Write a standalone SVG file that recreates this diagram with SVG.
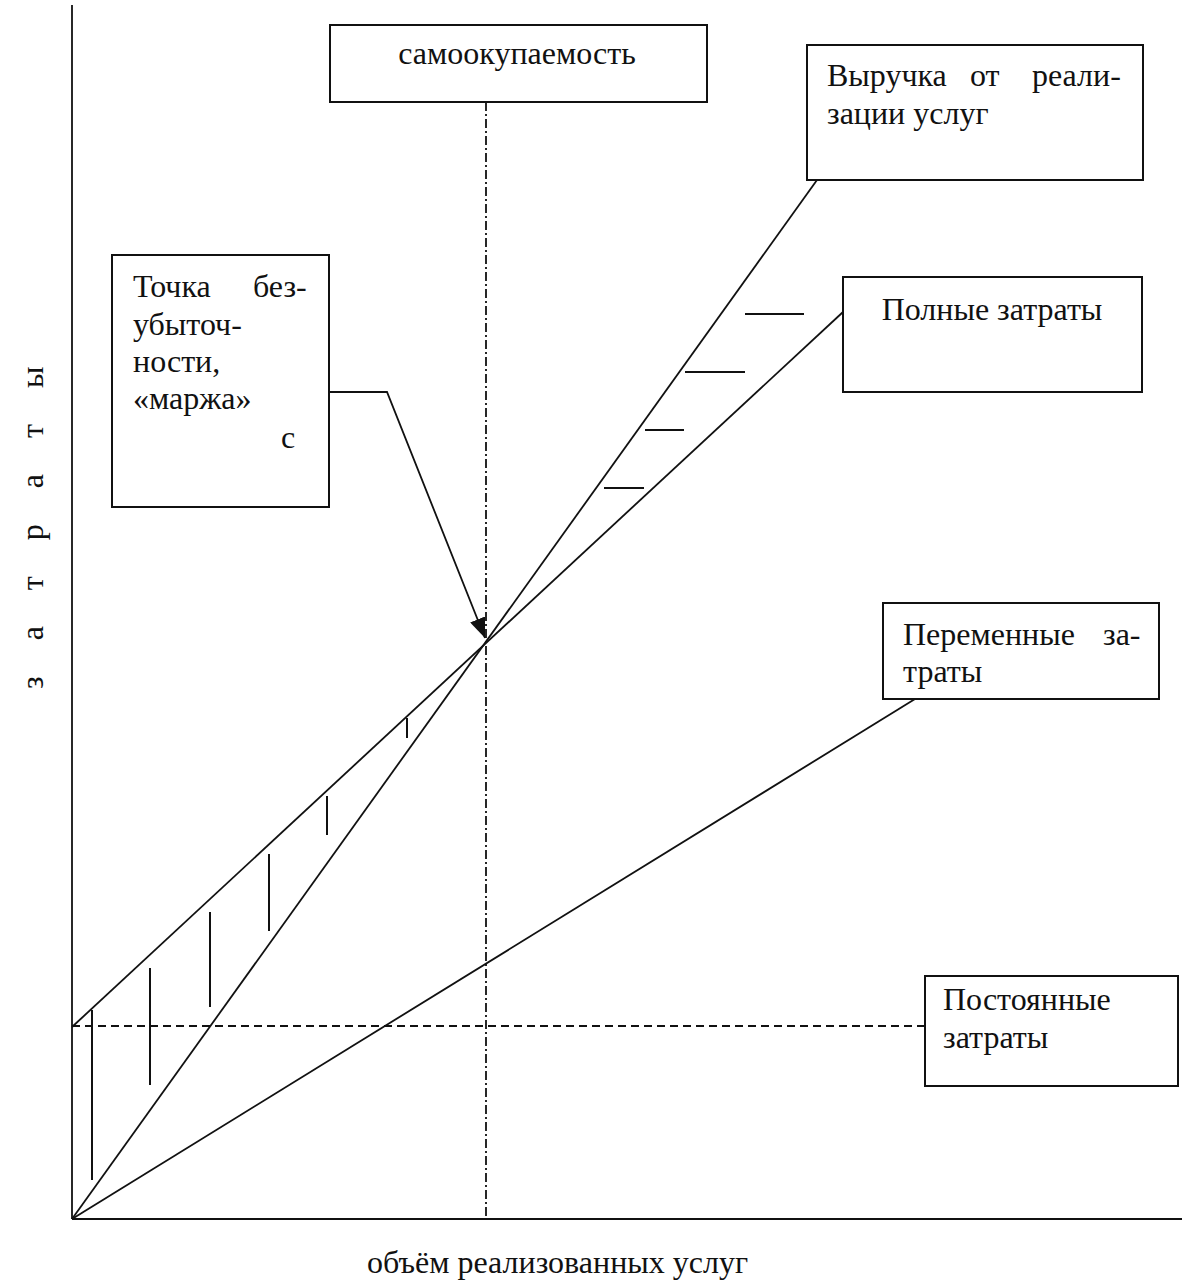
<svg xmlns="http://www.w3.org/2000/svg" width="1182" height="1284" viewBox="0 0 1182 1284">
<style>
text{font-family:"Liberation Serif","DejaVu Serif",serif;font-size:32px;fill:#111}
.box{fill:#fff;stroke:#111;stroke-width:2}
.ln{stroke:#111;stroke-width:1.8;fill:none}
.hatch{stroke:#111;stroke-width:2;fill:none}
.dash{stroke:#111;stroke-width:1.8;stroke-dasharray:8 5;fill:none}
.dashdot{stroke:#111;stroke-width:1.8;stroke-dasharray:9 3 2 3;fill:none}
</style>
<defs>
<marker id="arr" viewBox="0 0 20 16" refX="20" refY="8" markerWidth="20" markerHeight="16" markerUnits="userSpaceOnUse" orient="auto">
<path d="M0,0 L20,8 L0,16 z" fill="#111"/>
</marker>
</defs>
<rect width="1182" height="1284" fill="#fff"/>
<g id="connectors">
<line class="ln" x1="72" y1="5" x2="72" y2="1219"/>
<line class="ln" x1="72" y1="1219" x2="1182" y2="1219"/>
<line class="dashdot" x1="486" y1="102" x2="486" y2="1219"/>
<line class="dash" x1="72" y1="1026" x2="925" y2="1026"/>
<line class="ln" x1="72" y1="1219" x2="817" y2="180"/>
<line class="ln" x1="72" y1="1027" x2="843" y2="312"/>
<line class="ln" x1="72" y1="1219" x2="915" y2="699"/>
<polyline class="ln" points="329,392 387,392 485,638" marker-end="url(#arr)"/>
<g id="hatches">
<line class="hatch" x1="745" y1="314" x2="804" y2="314"/>
<line class="hatch" x1="685" y1="372" x2="745" y2="372"/>
<line class="hatch" x1="645" y1="430" x2="684" y2="430"/>
<line class="hatch" x1="604" y1="488" x2="644" y2="488"/>
<line class="hatch" x1="407" y1="718" x2="407" y2="738"/>
<line class="hatch" x1="327" y1="796" x2="327" y2="835"/>
<line class="hatch" x1="269" y1="854" x2="269" y2="931"/>
<line class="hatch" x1="210" y1="912" x2="210" y2="1007"/>
<line class="hatch" x1="150" y1="968" x2="150" y2="1085"/>
<line class="hatch" x1="92" y1="1010" x2="92" y2="1180"/>
</g>
</g>
<g id="node-samookupaemost">
<rect class="box" x="330" y="25" width="377" height="77"/>
<text x="517" y="64" text-anchor="middle">самоокупаемость</text>
</g>
<g id="node-vyruchka">
<rect class="box" x="807" y="45" width="336" height="135"/>
<text y="86"><tspan x="827">Выручка</tspan><tspan x="970">от</tspan><tspan x="1032">реали-</tspan></text>
<text x="827" y="124">зации услуг</text>
</g>
<g id="node-polnye">
<rect class="box" x="843" y="277" width="299" height="115"/>
<text x="992" y="320" text-anchor="middle">Полные затраты</text>
</g>
<g id="node-tochka">
<rect class="box" x="112" y="255" width="217" height="252"/>
<text y="297"><tspan x="133">Точка</tspan><tspan x="253">без-</tspan></text>
<text x="133" y="335">убыточ-</text>
<text x="133" y="372">ности,</text>
<text x="133" y="409">«маржа»</text>
<text x="281" y="448">с</text>
</g>
<g id="node-peremennye">
<rect class="box" x="883" y="603" width="276" height="96"/>
<text y="645"><tspan x="903">Переменные</tspan><tspan x="1103">за-</tspan></text>
<text x="903" y="682">траты</text>
</g>
<g id="node-postoyannye">
<rect class="box" x="925" y="976" width="253" height="110"/>
<text x="943" y="1010">Постоянные</text>
<text x="943" y="1048">затраты</text>
</g>
<g id="axis-labels">
<text transform="translate(43,689) rotate(-90)" letter-spacing="14">з а т р а т ы</text>
<text x="367" y="1273">объём реализованных услуг</text>
</g>
</svg>
